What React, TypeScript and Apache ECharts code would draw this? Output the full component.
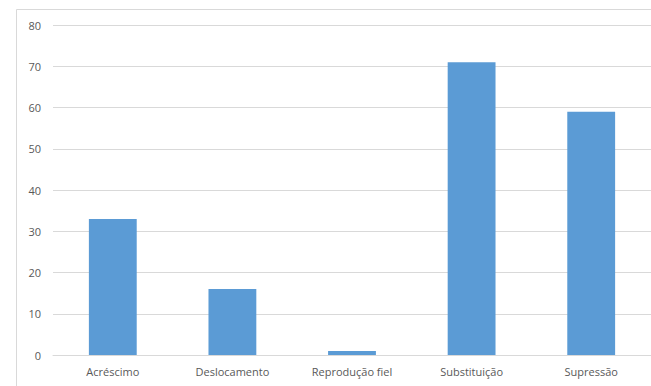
import React, { useEffect, useRef } from "react";
import * as echarts from "echarts";

const categories = ["Acréscimo", "Deslocamento", "Reprodução fiel", "Substituição", "Supressão"];
const values = [33, 16, 1, 71, 59];

export default function App() {
  const ref = useRef<HTMLDivElement>(null);
  useEffect(() => {
    if (!ref.current) return;
    const chart = echarts.init(ref.current, null, { renderer: "svg" });
    chart.setOption({
      animation: false,
      backgroundColor: "#ffffff",
      textStyle: { fontFamily: "Open Sans" },
      graphic: [
        {
          type: "rect",
          shape: { x: 16.5, y: 9.5, width: 700, height: 420 },
          style: { fill: "none", stroke: "#d9d9d9", lineWidth: 1 },
          silent: true,
        },
      ],
      grid: { left: 53, top: 25, width: 600, height: 330, containLabel: false },
      xAxis: {
        type: "category",
        data: categories,
        axisLine: { show: true, lineStyle: { color: "#d9d9d9" } },
        axisTick: { show: false },
        axisLabel: { color: "#595959", fontSize: 11, margin: 11, fontFamily: "Open Sans" },
      },
      yAxis: {
        type: "value",
        min: 0,
        max: 80,
        interval: 10,
        axisLine: { show: false },
        axisTick: { show: false },
        splitLine: { lineStyle: { color: "#d9d9d9" } },
        axisLabel: { color: "#595959", fontSize: 11, margin: 12, fontFamily: "Open Sans" },
      },
      series: [
        {
          type: "bar",
          data: values,
          barWidth: "40%",
          itemStyle: { color: "#5b9bd5" },
        },
      ],
    });
    return () => chart.dispose();
  }, []);
  return (
    <div
      ref={ref}
      style={{ position: "fixed", left: 0, top: 0, width: 651, height: 386 }}
    />
  );
}
